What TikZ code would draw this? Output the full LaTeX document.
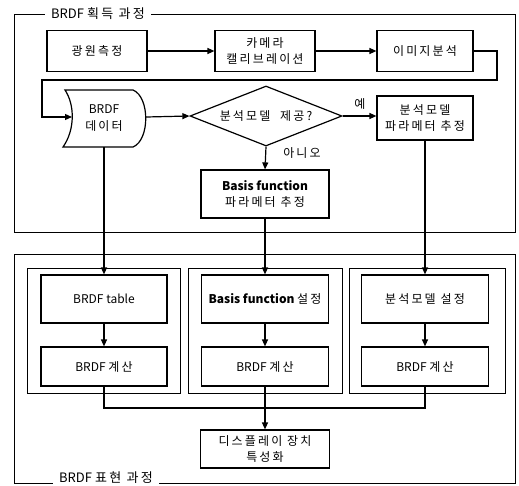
\documentclass[tikz,border=0pt]{standalone}
\usepackage{fontspec}
\setmainfont{Noto Sans CJK KR}
\newfontfamily\korfont[LetterSpace=18]{Noto Sans CJK KR}
\newcommand\kt[1]{{\korfont #1}}
\usetikzlibrary{shapes.geometric,arrows.meta}
\begin{document}
\begin{tikzpicture}[x=1pt,y=-1pt,line width=1.2pt,
  font=\fontsize{12}{16.5}\selectfont,
  box/.style={draw,rectangle,align=center,inner sep=0pt},
  frame/.style={draw,rectangle,inner sep=0pt,anchor=north west},
  ttl/.style={fill=white,inner xsep=6pt,inner ysep=1pt,font=\fontsize{13}{14}\selectfont},
  arr/.style={-{Triangle[length=7pt,width=6pt]}}]
\useasboundingbox (0,0) rectangle (519,485);

% frames
\node[frame,minimum width=501pt,minimum height=218pt] (acq) at (14,14) {};
\node[frame,minimum width=501pt,minimum height=229pt] (rep) at (14,254) {};
\node[ttl] (t1) at (98,14) {BRDF \kt{획득 과정}};
\node[ttl] (t2) at (106,478) {BRDF \kt{표현 과정}};

% acquisition
\node[box,minimum width=100pt,minimum height=41pt] (n1) at (97,51) {\kt{광원측정}};
\node[box,minimum width=100pt,minimum height=41pt] (n2) at (265,51) {\kt{카메라}\\\kt{캘리브레이션}};
\node[box,minimum width=96pt,minimum height=41pt] (n3) at (425,51) {\kt{이미지분석}};

\draw (65,90) .. controls (75,105) and (75,130) .. (63,147) -- (133,147)
      .. controls (150,140) and (150,97) .. (133,90) -- cycle;
\node[align=center,inner sep=0pt] (data) at (104,118) {BRDF\\\kt{데이터}};
\coordinate (dataW) at (72,117);
\coordinate (dataE) at (146,117);
\coordinate (dataS) at (104,147);

\node[diamond,draw,aspect=2.5,minimum width=152pt,minimum height=60pt,inner sep=0pt] (dia) at (266,116) {\kt{분석모델\ \ 제공?}};
\node[box,minimum width=96pt,minimum height=44pt] (n4) at (425,118) {\kt{분석모델}\\\kt{파라메터 추정}};
\node[box,minimum width=128pt,minimum height=48pt] (n5) at (265,194) {\textbf{Basis function}\\\kt{파라메터 추정}};
\node (yes) at (360,104) {\kt{예}};
\node (no) at (302,153) {\kt{아니오}};

\draw[arr] (n1) -- (n2);
\draw[arr] (n2) -- (n3);
\coordinate (k1) at (497,80);
\coordinate (k2) at (42,80);
\draw[arr] (n3.east) -| (k1) -- (k2) |- (dataW);
\draw[arr] (dataE) -- (dia.west);
\draw[arr] (dia.east) -- (n4.west |- dia.east);
\draw[arr] (dia.south) -- (n5.north);

% representation
\node[frame,minimum width=153pt,minimum height=125pt] (p1) at (27,268) {};
\node[frame,minimum width=154pt,minimum height=125pt] (p2) at (188,268) {};
\node[frame,minimum width=156pt,minimum height=125pt] (p3) at (349,268) {};

\node[box,minimum width=126pt,minimum height=48pt] (b1) at (104,299) {BRDF table};
\node[box,minimum width=126pt,minimum height=39pt] (c1) at (104,366.5) {BRDF \kt{계산}};
\node[box,minimum width=127pt,minimum height=48pt] (b2) at (265,299) {\textbf{Basis function} \kt{설정}};
\node[box,minimum width=127pt,minimum height=39pt] (c2) at (265,366.5) {BRDF \kt{계산}};
\node[box,minimum width=127pt,minimum height=48pt] (b3) at (425,299) {\kt{분석모델 설정}};
\node[box,minimum width=127pt,minimum height=39pt] (c3) at (425,366.5) {BRDF \kt{계산}};
\node[box,minimum width=129pt,minimum height=38pt] (disp) at (265,449) {\kt{디스플레이 장치}\\\kt{특성화}};

\draw[arr] (dataS) -- (b1.north);
\draw[arr] (n5.south) -- (b2.north);
\draw[arr] (n4.south) -- (b3.north);
\draw[arr] (b1) -- (c1);
\draw[arr] (b2) -- (c2);
\draw[arr] (b3) -- (c3);
\coordinate (jr) at (425,408);
\draw (c1.south) |- (jr) -- (c3.south);
\draw[arr] (c2.south) -- (disp.north);
\end{tikzpicture}
\end{document}
